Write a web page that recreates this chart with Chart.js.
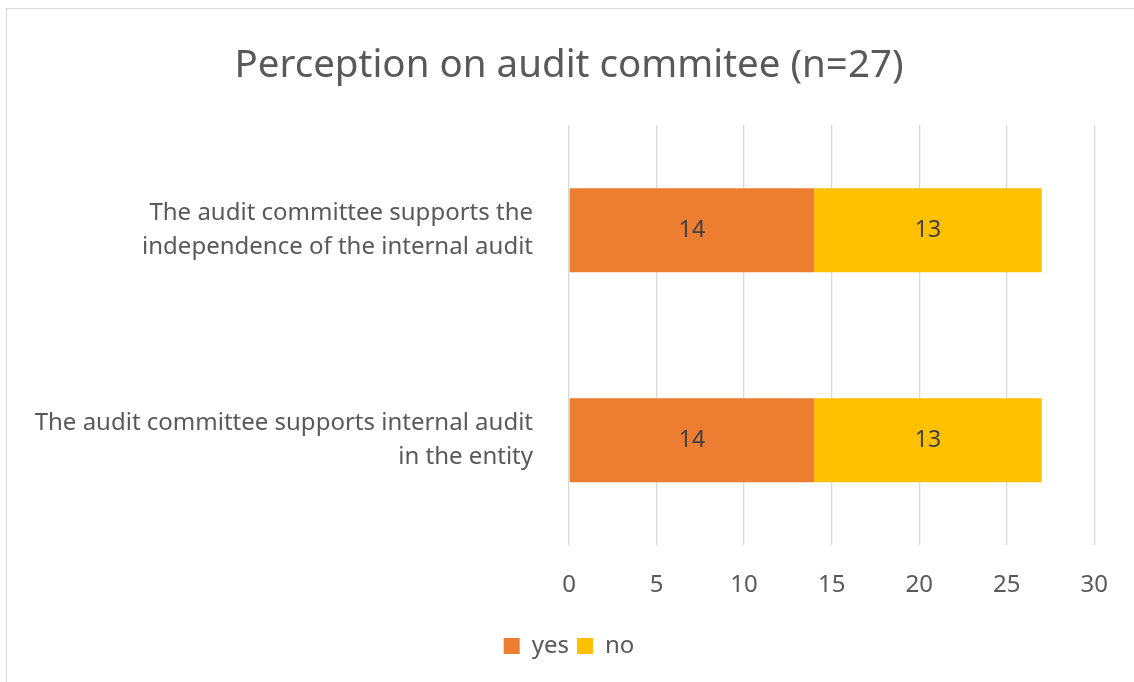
<!DOCTYPE html>
<html>
<head>
<meta charset="utf-8">
<script src="https://cdn.jsdelivr.net/npm/chart.js@4/dist/chart.umd.min.js"></script>
<style>
  html, body { margin: 0; padding: 0; background: #fff; overflow: hidden; }
  #wrap {
    position: absolute; left: 6px; top: 8px;
    width: 1128px; height: 674px;
    border-top: 1px solid #d9d9d9; border-left: 1px solid #d9d9d9;
    box-sizing: border-box;
  }
</style>
</head>
<body>
<div id="wrap"><canvas id="chart"></canvas></div>
<script>
// statements (each label split into lines)
var statements = [
    ['The audit committee supports the', 'independence of the internal audit'],
    ['The audit committee supports internal audit', 'in the entity']
];
var yesCounts = [14, 14];
var noCounts = [13, 13];
var xTicks = [0, 5, 10, 15, 20, 25, 30];

var textColor = '#595959';
var fontFamily = "'Noto Sans', 'Open Sans', sans-serif";

// write each segment's value in the middle of its bar
var barValues = {
    id: 'barValues',
    afterDatasetsDraw: function (chart) {
        var ctx = chart.ctx;
        ctx.save();
        ctx.font = '23px ' + fontFamily;
        ctx.fillStyle = '#404040';
        ctx.textAlign = 'center';
        ctx.textBaseline = 'middle';
        chart.data.datasets.forEach(function (ds, i) {
            chart.getDatasetMeta(i).data.forEach(function (bar, j) {
                var p = bar.getProps(['x', 'y', 'base'], true);
                ctx.fillText(ds.data[j], (p.x + p.base) / 2, p.y);
            });
        });
        ctx.restore();
    }
};

var ctx = document.getElementById('chart').getContext('2d');
var chart = new Chart(ctx, {
    type: 'bar',
    data: {
        labels: statements,
        datasets: [{
            label: 'yes',
            backgroundColor: '#ED7D31',
            data: yesCounts
        }, {
            label: 'no',
            backgroundColor: '#FFC000',
            data: noCounts
        }]
    },
    options: {
        indexAxis: 'y',
        responsive: true,
        maintainAspectRatio: false,
        animation: false,
        barPercentage: 0.4,
        categoryPercentage: 1,
        layout: {
            padding: { left: 15, right: 18, top: 20, bottom: 14 }
        },
        scales: {
            x: {
                stacked: true,
                min: 0,
                max: 30,
                afterBuildTicks: function (axis) {
                    axis.ticks = xTicks.map(function (v) { return { value: v }; });
                },
                grid: { color: '#d9d9d9', lineWidth: 1.3, drawTicks: false },
                border: { display: false },
                ticks: {
                    color: textColor,
                    padding: 26,
                    font: { family: fontFamily, size: 24 }
                }
            },
            y: {
                stacked: true,
                grid: { display: false },
                border: { display: false },
                ticks: {
                    color: textColor,
                    padding: 28,
                    crossAlign: 'near',
                    font: { family: fontFamily, size: 24, lineHeight: 1.38 }
                }
            }
        },
        plugins: {
            title: {
                display: true,
                text: 'Perception on audit commitee (n=27)',
                color: textColor,
                font: { family: fontFamily, size: 38.5, weight: 'normal' },
                padding: { top: 14, bottom: 36 }
            },
            legend: {
                position: 'bottom',
                labels: {
                    color: textColor,
                    boxWidth: 16,
                    boxHeight: 16,
                    padding: 8,
                    font: { family: fontFamily, size: 24 }
                }
            },
            tooltip: { enabled: false }
        }
    },
    plugins: [barValues]
});
</script>
</body>
</html>
